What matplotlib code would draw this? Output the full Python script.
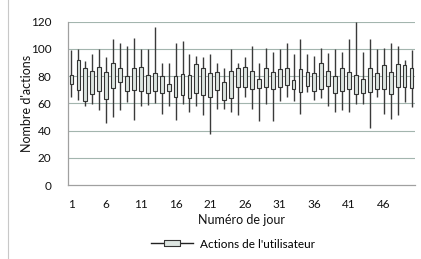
import matplotlib
matplotlib.use("Agg")
import matplotlib.pyplot as plt
from matplotlib.lines import Line2D
from matplotlib.path import Path

# Daily user actions (Excel stock-style chart: high/low whiskers + box)
days = list(range(1, 51))
high = [99, 100, 91, 96, 100, 94, 107, 104, 102, 108,
        100, 100, 116, 90, 90, 104, 106, 96, 95, 94,
        96, 90, 86, 100, 90, 94, 102, 90, 101, 98,
        100, 104, 96, 107, 96, 95, 101, 97, 100, 98,
        107, 120, 98, 107, 100, 101, 104, 102, 92, 99]
box_top = [81, 92, 86, 84, 87, 83, 90, 86, 80, 86,
           87, 81, 82, 80, 74, 80, 81.5, 81, 89, 86,
           82, 83, 76, 84, 86, 87, 84, 78, 86, 83,
           85, 86, 77, 85, 83, 82, 90, 84, 80, 86,
           83, 80.5, 78, 86, 82, 88, 83, 89, 88, 86]
box_bottom = [74, 70, 62, 67, 69, 63, 71, 76, 69, 70,
              69, 67.5, 69, 67.5, 69, 65, 66, 64, 67.5, 66,
              65, 70, 62.6, 64, 71.7, 71.7, 70.7, 71.2, 71.7, 70.7,
              71.7, 73.6, 70.7, 68.2, 72.9, 69.2, 70.7, 73.1, 67.5, 69.2,
              70.7, 66.8, 67.5, 68.2, 70.7, 70.7, 66.8, 71.7, 71.7, 71.2]
low = [65, 62.6, 58.4, 59.4, 55, 45.5, 50, 55, 61, 47.4,
       58.4, 59, 60, 52, 57.7, 48, 59.4, 53.5, 57.7, 51.6,
       37.6, 56, 56, 54, 51.6, 65, 55.7, 47.2, 59.4, 47.2,
       62, 65, 61.4, 52, 68.7, 62.6, 63.8, 57.7, 54, 55.3,
       54, 59.4, 59.4, 41.8, 65, 52, 48.7, 51.6, 61, 57]
xticks = [1, 6, 11, 16, 21, 26, 31, 36, 41, 46]
yticks = [0, 20, 40, 60, 80, 100, 120]

plt.rcParams["font.family"] = ["Lato", "DejaVu Sans"]

fig = plt.figure(figsize=(4.21, 2.59), dpi=100)
ax = fig.add_axes([68 / 421, 1 - 185 / 259, 347 / 421, 163.3 / 259])

grid_c = "#a3b5ae"
for y in yticks[1:]:
    ax.axhline(y, color=grid_c, lw=0.8, zorder=0)

box_fill = "#dde5e1"
edge = "#333333"
ax.vlines(days, low, high, color="#3a3a3a", lw=1.0, zorder=2)
heights = [t - b for t, b in zip(box_top, box_bottom)]
ax.bar(days, heights, bottom=box_bottom, width=0.55, color=box_fill,
       edgecolor=edge, linewidth=0.8, zorder=3)

ax.set_xlim(0.5, 50.5)
ax.set_ylim(0, 120)
ax.set_xticks(xticks)
ax.set_yticks(yticks)
ax.tick_params(axis="both", length=0, labelsize=8.5, colors="#111111")
ax.tick_params(axis="x", pad=10)
ax.tick_params(axis="y", pad=12)
for s in ["top", "right"]:
    ax.spines[s].set_visible(False)
for s in ["left", "bottom"]:
    ax.spines[s].set_color("#a0a0a0")
    ax.spines[s].set_linewidth(0.9)

ax.set_xlabel("Numéro de jour", fontsize=9, color="#111111", labelpad=3)
ax.set_ylabel("Nombre d'actions", fontsize=9, color="#111111")
ax.yaxis.set_label_coords(-0.10, 0.5)

rect = Path([(-1, -0.4), (1, -0.4), (1, 0.4), (-1, 0.4), (-1, -0.4)])
handle = Line2D([], [], color="#222222", lw=1.0, marker=rect, markersize=12,
                markerfacecolor=box_fill, markeredgecolor=edge, markeredgewidth=0.8)
fig.legend([handle], ["Actions de l'utilisateur"], loc="center",
           bbox_to_anchor=(233 / 421, 1 - 244 / 259), frameon=False,
           fontsize=8.5, handlelength=3.6, handletextpad=0.6)

fig.add_artist(Line2D([8 / 421, 8 / 421], [0, 1], color="#c8c8c8", lw=0.8))

fig.savefig("out.png", dpi=100)
